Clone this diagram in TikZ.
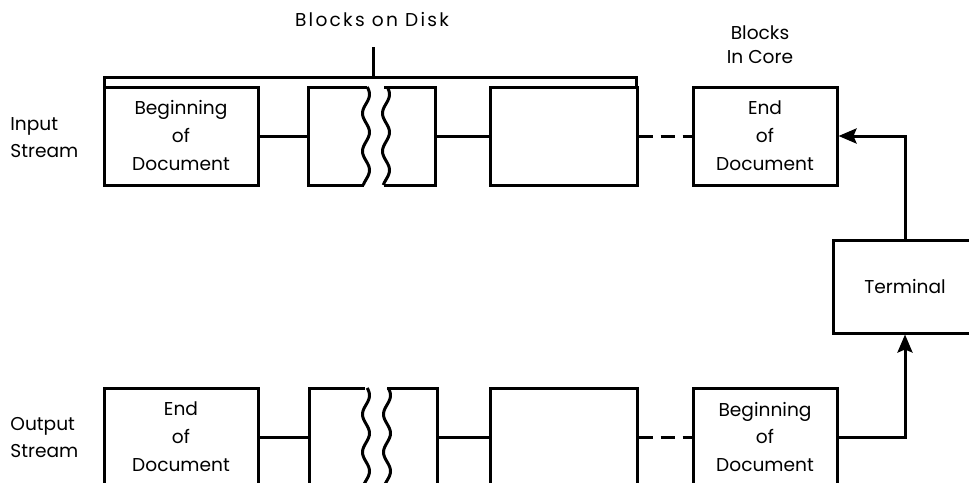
\documentclass[tikz,border=0pt]{standalone}
\usepackage{fontspec}
\setmainfont{Poppins}
\usetikzlibrary{arrows.meta}
\begin{document}
\begin{tikzpicture}[x=0.5pt,y=-0.5pt,
  ln/.style={line width=1.5pt},
  blk/.style={draw, ln, inner sep=0pt, align=center, minimum height=49pt,
    font=\fontsize{9.3}{14}\selectfont},
  ghost/.style={inner sep=0pt, minimum height=49pt},
  lbl/.style={align=left, inner sep=0pt, font=\fontsize{9.3}{13.5}\selectfont},
  ttl/.style={align=center, inner sep=0pt, font=\fontsize{9.3}{12}\selectfont},
  arr/.style={ln, -{Stealth[length=9pt,width=7.5pt,inset=1.5pt]}}]
\useasboundingbox (0,0) rectangle (969,482);
% ---------- top row ----------
\node[blk, minimum width=77pt] (b1) at (181,136) {Beginning\\of\\Document};
\node[ghost, minimum width=29.5pt] (b2) at (337.5,136) {};
\node[ghost, minimum width=25.5pt] (b3) at (409.5,136) {};
\node[blk, minimum width=73.5pt] (b4) at (563.5,136) {};
\node[blk, minimum width=72pt] (b5) at (765,136) {End\\of\\Document};
\draw[ln] (367,87) -- (308,87) -- (308,185) -- (364,185);
\draw[ln] plot[domain=0:98,samples=60,smooth] ({366+3.5*sin(\x*9.5+20)},{87+\x});
\draw[ln] (384,87) -- (435,87) -- (435,185) -- (384,185);
\draw[ln] plot[domain=0:98,samples=60,smooth] ({386+3.5*sin(\x*9.5+20)},{87+\x});
\draw[ln] (b1.east) -- (b2.west);
\draw[ln] (b3.east) -- (b4.west);
\draw[ln, dash pattern=on 7pt off 4pt] (b4.east) -- (b5.west);
% ---------- bottom row ----------
\node[blk, minimum width=77pt] (c1) at (181,437) {End\\of\\Document};
\node[ghost, minimum width=28pt] (c2) at (337,437) {};
\node[ghost, minimum width=25pt] (c3) at (412,437) {};
\node[blk, minimum width=73.5pt] (c4) at (563.5,437) {};
\node[blk, minimum width=72pt] (c5) at (765,437) {Beginning\\of\\Document};
\draw[ln] (365,388) -- (309,388) -- (309,490);
\draw[ln] plot[domain=0:100,samples=60,smooth] ({366+3.5*sin(\x*9.5+20)},{388+\x});
\draw[ln] (387,388) -- (437,388) -- (437,490);
\draw[ln] plot[domain=0:100,samples=60,smooth] ({387+3.5*sin(\x*9.5+20)},{388+\x});
\draw[ln] (c1.east) -- (c2.west);
\draw[ln] (c3.east) -- (c4.west);
\draw[ln, dash pattern=on 7pt off 4pt] (c4.east) -- (c5.west);
% ---------- terminal ----------
\node[blk, minimum width=72pt, minimum height=46.5pt] (term) at (905,286.5) {Terminal};
\draw[arr] (term.north) |- (b5.east);
\draw[arr] (c5.east) -| (term.south);
% ---------- brace and labels ----------
\coordinate (brL) at (104,86);
\coordinate (brR) at (636,86);
\coordinate (brM) at (373,77);
\coordinate (brT) at (373,47);
\draw[ln] (brL) -- (brL |- brM) -- (brR |- brM) -- (brR);
\draw[ln] (brM) -- (brT);
\node[ttl] (disk) at (372,20) {\addfontfeature{LetterSpace=12}Blocks on Disk};
\node[ttl] (core) at (760,45) {Blocks\\In Core};
\node[lbl, anchor=west] (inp) at (10,138) {Input\\Stream};
\node[lbl, anchor=west] (outp) at (10,438) {Output\\Stream};
\end{tikzpicture}
\end{document}
